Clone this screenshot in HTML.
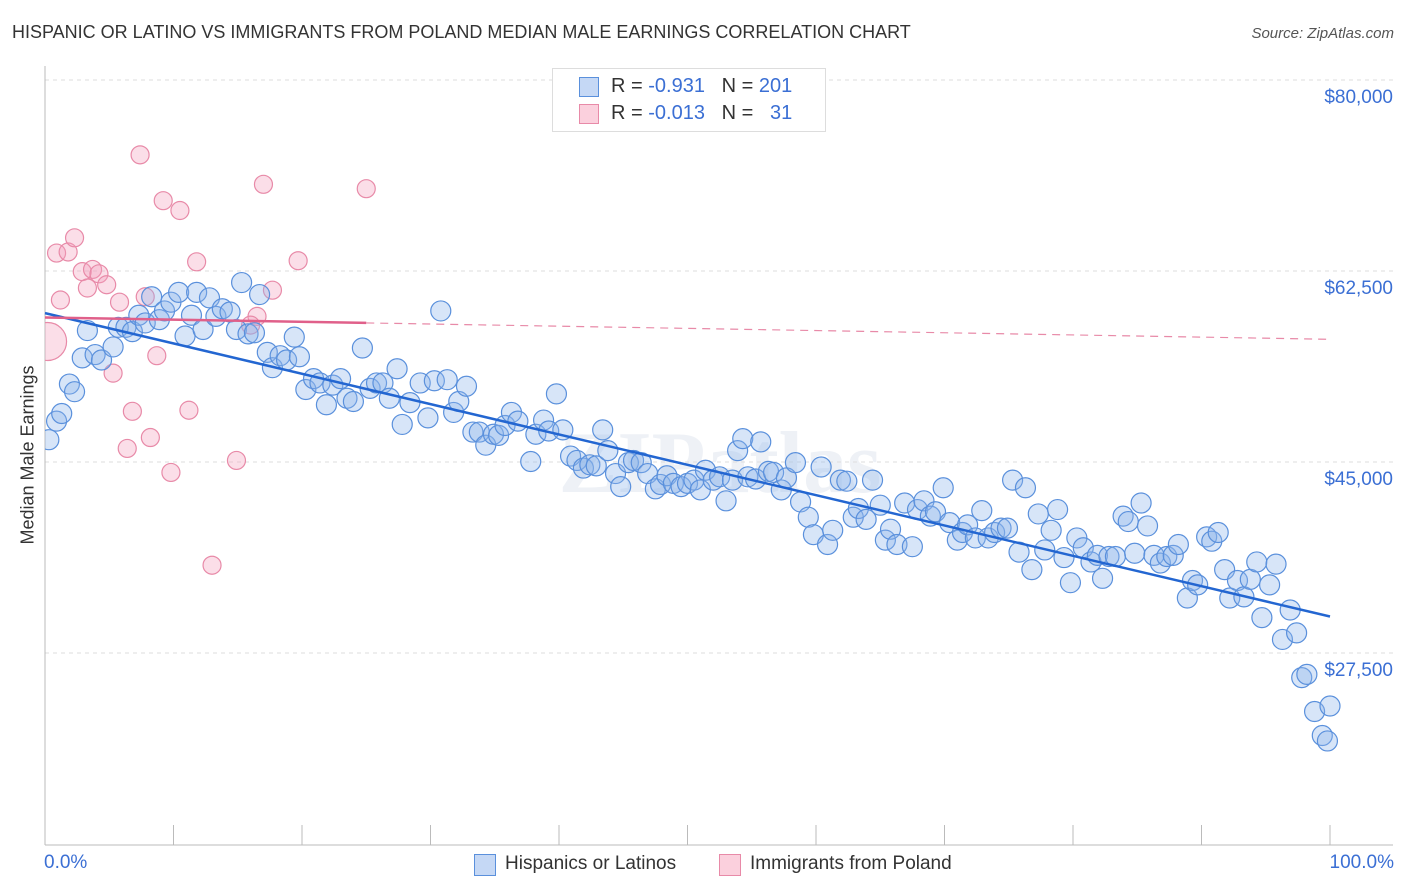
<!DOCTYPE html>
<html><head><meta charset="utf-8"><style>
body{margin:0;background:#fff;font-family:"Liberation Sans",sans-serif}
#wrap{position:relative;width:1406px;height:892px}
.t{position:absolute;white-space:nowrap}
</style></head><body>
<div id="wrap">
<div class="t" style="left:12px;top:22px;font-size:18px;color:#333">HISPANIC OR LATINO VS IMMIGRANTS FROM POLAND MEDIAN MALE EARNINGS CORRELATION CHART</div>
<div class="t" style="right:12px;top:25px;font-size:15px;color:#555;font-style:italic">Source: ZipAtlas.com</div>
<svg id="svg" width="1406" height="892" style="position:absolute;left:0;top:0"></svg>
</div>
<script>
const blueX=[0.3,0.9,1.3,1.9,2.3,2.9,3.3,3.9,4.4,5.3,5.7,6.3,6.8,7.3,7.8,8.3,8.9,9.3,9.8,10.4,10.9,11.4,11.8,12.3,12.8,13.3,13.8,14.4,14.9,15.3,15.8,16.3,16.7,17.3,17.7,18.3,18.8,19.4,19.8,20.3,20.9,21.4,21.9,22.4,23.0,23.5,24.0,24.7,25.3,25.8,26.3,26.8,27.4,27.8,28.4,29.2,29.8,30.3,30.8,31.3,31.8,32.2,32.8,33.3,33.8,34.3,34.9,35.3,35.8,36.3,36.8,37.8,38.2,38.8,39.2,39.8,40.3,40.9,41.4,41.9,42.4,42.9,43.4,43.8,44.4,44.8,45.4,45.8,46.4,46.9,47.5,47.9,48.4,48.9,49.5,50.0,50.5,51.0,51.4,52.0,52.5,53.0,53.5,53.9,54.3,54.7,55.3,55.7,56.3,56.7,57.3,57.7,58.4,58.8,59.4,59.8,60.4,60.9,61.3,61.9,62.4,62.9,63.3,63.9,64.4,65.0,65.4,65.8,66.3,66.9,67.5,67.9,68.4,68.9,69.3,69.9,70.4,71.0,71.4,71.8,72.4,72.9,73.4,73.9,74.4,74.9,75.3,75.8,76.3,76.8,77.3,77.8,78.3,78.8,79.3,79.8,80.3,80.8,81.4,81.9,82.3,82.8,83.3,83.9,84.3,84.8,85.3,85.8,86.3,86.8,87.3,87.8,88.2,88.9,89.3,89.7,90.4,90.8,91.3,91.8,92.2,92.8,93.3,93.8,94.3,94.7,95.3,95.8,96.3,96.9,97.4,97.8,98.2,98.8,99.4,99.8,100];
const blueY=[48.6,50.3,51.0,53.7,53.0,56.1,58.6,56.4,55.9,57.1,58.9,58.9,58.5,60.0,59.3,61.7,59.6,60.4,61.2,62.1,58.1,60.0,62.1,58.7,61.6,59.9,60.6,60.3,58.7,63.0,58.3,58.4,61.9,56.6,55.2,56.3,55.9,58.0,56.2,53.2,54.2,53.8,51.8,53.6,54.2,52.4,52.1,57.0,53.3,53.8,53.8,52.4,55.1,50.0,52.0,53.8,50.6,54.0,60.4,54.1,51.1,52.1,53.5,49.3,49.3,48.1,49.1,49.0,49.9,51.1,50.3,46.6,49.1,50.4,49.4,52.8,49.5,47.1,46.7,46.0,46.3,46.2,49.5,47.6,45.5,44.3,46.5,46.7,46.5,45.5,44.1,44.5,45.3,44.6,44.3,44.6,44.9,44.0,45.8,44.9,45.2,43.0,44.9,47.6,48.7,45.2,45.0,48.4,45.7,45.6,44.0,45.1,46.5,42.9,41.5,39.9,46.1,39.0,40.3,44.9,44.8,41.5,42.3,41.3,44.9,42.6,39.4,40.4,39.0,42.8,38.8,42.2,43.0,41.6,42.0,44.2,41.0,39.4,40.1,40.8,39.6,42.1,39.6,40.1,40.5,40.5,44.9,38.3,44.2,36.7,41.8,38.5,40.3,42.2,37.8,35.5,39.6,38.7,37.4,38.0,35.9,37.9,37.9,41.6,41.1,38.2,42.8,40.7,38.0,37.3,37.9,38.0,39.0,34.1,35.7,35.3,39.7,39.3,40.1,36.7,34.1,35.7,34.2,35.8,37.4,32.3,35.3,37.2,30.3,33.0,30.9,26.8,27.1,23.7,21.5,21.0,24.2];
const pinkX=[0.2,0.9,1.2,1.8,2.3,2.9,3.3,3.7,4.2,4.8,5.3,5.8,6.4,6.8,7.4,7.8,8.2,8.7,9.2,9.8,10.5,11.2,11.8,13.0,14.9,16.5,17.0,17.7,19.7,25.0,16.0];
const pinkY=[57.6,65.7,61.4,65.8,67.1,64.0,62.5,64.2,63.8,62.8,54.7,61.2,47.8,51.2,74.7,61.7,48.8,56.3,70.5,45.6,69.6,51.3,64.9,37.1,46.7,59.9,72.0,62.3,65.0,71.6,59.1];
const pinkR=[19,9,9,9,9,9,9,9,9,9,9,9,9,9,9,9,9,9,9,9,9,9,9,9,9,9,9,9,9,9,9];
const blueTrend=[60.2,32.4];      // value at x=0 and x=100
const pinkTrend=[59.8,57.8];
const pinkSolidEnd=25;
const yTicks=[80000,62500,45000,27500];
const yTickLabels=["$80,000","$62,500","$45,000","$27,500"];
const xTicks=[0,10,20,30,40,50,60,70,80,90,100];

const NS="http://www.w3.org/2000/svg";
const svg=document.getElementById('svg');
const X0=45,X1=1330,PT=66,PB=845;
const xs=v=>X0+v*(X1-X0)/100;
const ys=k=>97+(80-k)*191/17.5; // k in thousands
function el(t,a,p){const e=document.createElementNS(NS,t);for(const k in a)e.setAttribute(k,a[k]);(p||svg).appendChild(e);return e;}
const defs=el('defs',{});const cp=el('clipPath',{id:'cp'},defs);el('rect',{x:X0,y:PT,width:1393-X0,height:PB-PT},cp);
// watermark
const wm=el('text',{x:720,y:492,'text-anchor':'middle','font-size':'88','font-family':'Liberation Serif, serif','font-weight':'bold',fill:'#eef1f6'});wm.textContent='ZIPatlas';


yTicks.forEach((t,i)=>{const y=ys(t/1000)-17;
 const g=el('line',{x1:X0,x2:1393,y1:y,y2:y,stroke:'#ddd','stroke-dasharray':'4,4'});
 
 
 const tx=el('text',{x:1393,y:ys(t/1000)+6,'text-anchor':'end','font-size':'19',fill:'#3b6fd4','font-family':'Liberation Sans, sans-serif'});tx.textContent=yTickLabels[i];
 
 });
const ax=el('line',{x1:X0,x2:X0,y1:PT,y2:PB,stroke:'#bbb'});


const bx=el('line',{x1:X0,x2:1393,y1:PB,y2:PB,stroke:'#bbb'});


xTicks.forEach(t=>{const l=el('line',{x1:xs(t),x2:xs(t),y1:825,y2:PB,stroke:'#bbb'});
 
 });
const gp=el('g',{'clip-path':'url(#cp)'});
pinkX.forEach((v,i)=>{const c=el('circle',{cx:xs(v),cy:ys(pinkY[i]),r:pinkR[i],fill:'rgba(244,160,188,0.35)',stroke:'#e88aa8','stroke-width':1.2},gp);
 
 });
blueX.forEach((v,i)=>{const c=el('circle',{cx:xs(v),cy:ys(blueY[i]),r:10,fill:'rgba(140,180,235,0.35)',stroke:'#5a90dc','stroke-width':1.2},gp);
 
 });
const bl=el('line',{x1:xs(0),y1:ys(blueTrend[0]),x2:xs(100),y2:ys(blueTrend[1]),stroke:'#2366d1','stroke-width':2.5});


const pm=pinkTrend[0]+(pinkTrend[1]-pinkTrend[0])*pinkSolidEnd/100;
const pl=el('line',{x1:xs(0),y1:ys(pinkTrend[0]),x2:xs(pinkSolidEnd),y2:ys(pm),stroke:'#e0608a','stroke-width':2.5});


const pd=el('line',{x1:xs(pinkSolidEnd),y1:ys(pm),x2:xs(100),y2:ys(pinkTrend[1]),stroke:'#e88aa8','stroke-width':1.2,'stroke-dasharray':'8,6'});


</script>
<div class="t" style="left:28px;top:455px;transform:translate(-50%,-50%) rotate(-90deg);font-size:18px;color:#333">Median Male Earnings</div>
<div class="t" style="left:44px;top:852px;font-size:19px;color:#3b6fd4">0.0%</div>
<div class="t" style="right:12px;top:852px;font-size:19px;color:#3b6fd4">100.0%</div>
<div style="position:absolute;left:552px;top:68px;width:272px;height:62px;border:1px solid #ddd;background:#fff;font-size:20px">
 <div style="position:absolute;left:26px;top:8px;width:18px;height:18px;background:#c5d8f5;border:1px solid #5a90dc"></div>
 <div class="t" style="left:58px;top:6px;color:#333">R = <span style="color:#3b6fd4">-0.931</span>&nbsp;&nbsp;&nbsp;N = <span style="color:#3b6fd4">201</span></div>
 <div style="position:absolute;left:26px;top:35px;width:18px;height:18px;background:#fbd0dd;border:1px solid #e88aa8"></div>
 <div class="t" style="left:58px;top:33px;color:#333">R = <span style="color:#3b6fd4">-0.013</span>&nbsp;&nbsp;&nbsp;N = &nbsp;&nbsp;<span style="color:#3b6fd4">31</span></div>
</div>
<div style="position:absolute;left:474px;top:853px;font-size:19px;color:#333">
 <div style="position:absolute;left:0;top:1px;width:20px;height:20px;background:#c5d8f5;border:1px solid #5a90dc"></div>
 <div class="t" style="left:31px;top:0">Hispanics or Latinos</div></div>
<div style="position:absolute;left:719px;top:853px;font-size:19px;color:#333">
 <div style="position:absolute;left:0;top:1px;width:20px;height:20px;background:#fbd0dd;border:1px solid #e88aa8"></div>
 <div class="t" style="left:31px;top:0">Immigrants from Poland</div></div>
</body></html>
